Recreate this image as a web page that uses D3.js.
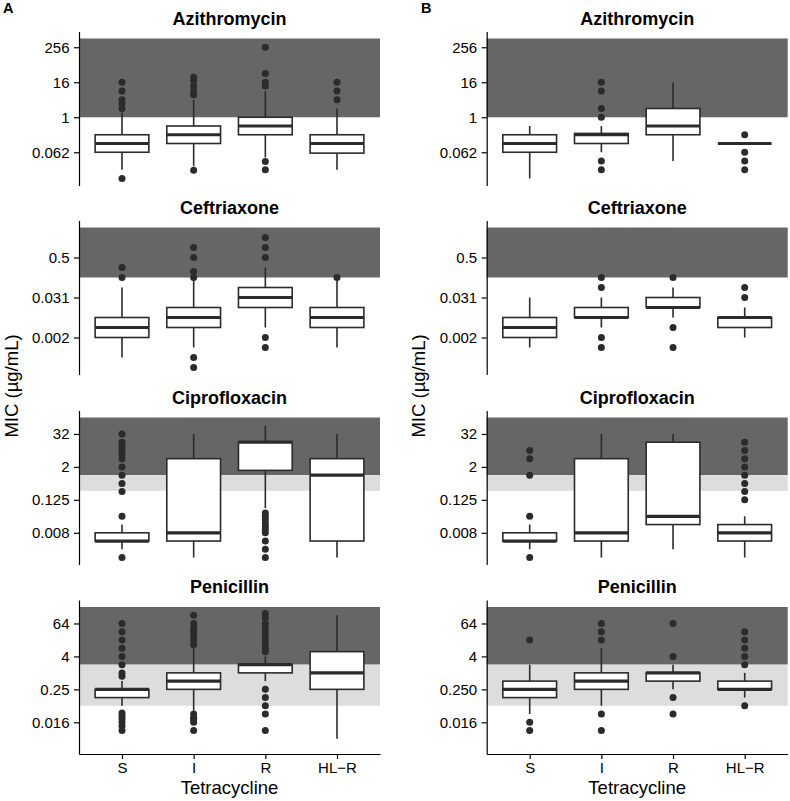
<!DOCTYPE html>
<html>
<head>
<meta charset="utf-8">
<script src="https://cdn.jsdelivr.net/npm/d3@7"></script>
<style>
    body { margin: 0; background: #fff; }
    text { font-family: "Liberation Sans", Arial, Helvetica, sans-serif; }
</style>
</head>
<body>
<div id="chart"></div>
<script>
// Tetracycline categories (x axis)
var groups = ["S", "I", "R", "HL-R"];
var groupLabels = ["S", "I", "R", "HL\u2212R"];
var drugs = ["Azithromycin", "Ceftriaxone", "Ciprofloxacin", "Penicillin"];

// y range of each drug row, in log2(MIC)
var yRanges = [[-7.8, 9.8], [-12.7, 2.7], [-10.85, 7.85], [-9.85, 8.85]];

// y ticks (log2) and their printed labels
var tickExp = [[8, 4, 0, -4], [-1, -5, -9], [5, 1, -3, -7], [6, 2, -2, -6]];
var tickLabelsA = [["256", "16", "1", "0.062"], ["0.5", "0.031", "0.002"], ["32", "2", "0.125", "0.008"], ["64", "4", "0.25", "0.016"]];
var tickLabelsB = [["256", "16", "1", "0.062"], ["0.5", "0.031", "0.002"], ["32", "2", "0.125", "0.008"], ["64", "4", "0.250", "0.016"]];

// breakpoint bands, log2(MIC)
var resistantBand = [[0, 9], [-3, 2], [0, 7], [1, 8]];
var intermediateBand = [null, null, [-1.9, 0], [-4, 1]];

// box stats per group: [lower whisker, q1, median, q3, upper whisker], log2(MIC)
var azmA = [[-6, -4, -3, -2, 0.58], [-5.6, -3, -2, -1, 2], [-4.6, -2, -1, 0, 3], [-6, -4.1, -3, -2, 1]];
var croA = [[-11, -9, -8, -7, -4], [-10, -8, -7, -6, -3.32], [-8, -6, -5, -4, -2], [-10, -8, -7, -6, -3.32]];
var cipA = [[-9, -8, -8, -7, -6], [-10, -8, -7, 2, 5], [-4, 0.58, 4, 4, 6], [-10, -8, 0, 2, 5]];
var penA = [[-4, -3, -2, -2, -1], [-4.58, -2, -1, 0, 3], [-1, 0, 1, 1, 2], [-8, -2, 0, 2.58, 7]];

var azmB = [[-7, -4, -3, -2, -1], [-4, -3, -2, -1.85, -1], [-5, -2, -1, 1, 4], [-3, -3, -3, -3, -3]];
var croB = [[-10, -9, -8, -7, -5], [-8, -7, -7, -6, -5], [-7, -6, -6, -5, -4], [-9, -8, -7, -7, -6]];
var cipB = [[-9, -8, -8, -7, -6], [-10, -8, -7, 2, 5], [-9, -6, -5, 4, 5], [-10, -8, -7, -6, -5]];
var penB = [[-5, -3, -2, -1, 1], [-4, -2, -1, 0, 3], [-2, -1, 0, 0, 1], [-3, -2, -2, -1, 0]];

// outliers per group, log2(MIC)
var azmOutA = [[1, 1.58, 2, 3, 4, -7], [2.58, 3, 3.58, 4.17, 4.58, -6.07], [3.58, 4, 5, 8, -5.06, -6], [2, 3, 4]];
var croOutA = [[-3, -2], [-3, -2.4, -1, 0, -11, -12], [-1, 0, 1, -9, -10], [-3]];
var cipOutA = [[-5, -2, -1, 0, 1, 2, 2.58, 3, 3.58, 4, 5, -10], [], [-4.6, -5, -5.4, -5.8, -6.2, -6.6, -7, -8, -9, -10], []];
var penOutA = [[-0.42, 0, 1, 2, 3, 4, 5, 6, -4.86, -5.2, -5.55, -6, -6.45, -7],
               [3.42, 4, 4.58, 5, 5.42, 6, 7, -5, -5.42, -5.64, -6, -7],
               [2.58, 3, 3.58, 4, 4.58, 5, 5.58, 6, 6.7, 7.2, -2, -3, -4, -5, -7], []];

var azmOutB = [[], [0, 1, 3, 4, -5, -6], [], [-2, -4, -5, -6]];
var croOutB = [[], [-4, -3, -9, -10], [-3, -8, -10], [-5, -4]];
var cipOutB = [[-5, 0, 2, 3, -10], [], [], [-3, -2, -1, 0, 1, 2, 3, 4]];
var penOutB = [[4, -6, -7], [4, 5, 6, -5, -7], [2, 6, -3, -5], [1, 2, 3, 4, 5, -4]];

var statsA = [azmA, croA, cipA, penA], statsB = [azmB, croB, cipB, penB];
var outA = [azmOutA, croOutA, cipOutA, penOutA], outB = [azmOutB, croOutB, cipOutB, penOutB];

// layout
var colLeft = [79, 486.7], plotW = 301;
var rowTop = [31.5, 220.5, 410.5, 600], plotH = 154;
var boxColor = "#2b2b2b";

var svg = d3.select("#chart").append("svg")
    .attr("width", 790)
    .attr("height", 801);

svg.append("rect").attr("width", 790).attr("height", 801).attr("fill", "#fff");

var x = d3.scalePoint()
    .domain(groups)
    .range([0, plotW])
    .padding(0.6);
var boxW = x.step() * 0.75;

function drawPanel(col, row) {
    var stats = col === 0 ? statsA[row] : statsB[row];
    var outs = col === 0 ? outA[row] : outB[row];
    var labels = col === 0 ? tickLabelsA[row] : tickLabelsB[row];

    var g = svg.append("g")
        .attr("transform", "translate(" + colLeft[col] + "," + rowTop[row] + ")");

    var y = d3.scaleLinear()
        .domain(yRanges[row])
        .range([plotH, 0]);

    // breakpoint bands
    var rb = resistantBand[row];
    g.append("rect")
        .attr("x", 0).attr("width", plotW)
        .attr("y", y(rb[1])).attr("height", y(rb[0]) - y(rb[1]))
        .attr("fill", "#666666");
    var ib = intermediateBand[row];
    if (ib) {
        g.append("rect")
            .attr("x", 0).attr("width", plotW)
            .attr("y", y(ib[1])).attr("height", y(ib[0]) - y(ib[1]))
            .attr("fill", "#dddddd");
    }

    // boxes
    var boxes = g.selectAll(".box")
        .data(stats)
        .enter().append("g")
        .attr("class", "box")
        .attr("transform", function (d, i) { return "translate(" + x(groups[i]) + ",0)"; });

    boxes.append("line")
        .attr("y1", function (d) { return y(d[3]); })
        .attr("y2", function (d) { return y(d[4]); })
        .attr("stroke", boxColor).attr("stroke-width", 1.6);
    boxes.append("line")
        .attr("y1", function (d) { return y(d[1]); })
        .attr("y2", function (d) { return y(d[0]); })
        .attr("stroke", boxColor).attr("stroke-width", 1.6);
    boxes.append("rect")
        .attr("x", -boxW / 2).attr("width", boxW)
        .attr("y", function (d) { return y(d[3]); })
        .attr("height", function (d) { return y(d[1]) - y(d[3]); })
        .attr("fill", "#fff")
        .attr("stroke", boxColor).attr("stroke-width", 1.6);
    boxes.append("line")
        .attr("x1", -boxW / 2).attr("x2", boxW / 2)
        .attr("y1", function (d) { return y(d[2]); })
        .attr("y2", function (d) { return y(d[2]); })
        .attr("stroke", boxColor).attr("stroke-width", 3.2);

    // outliers
    outs.forEach(function (list, i) {
        g.selectAll(null)
            .data(list)
            .enter().append("circle")
            .attr("cx", x(groups[i]))
            .attr("cy", function (d) { return y(d); })
            .attr("r", 3.5)
            .attr("fill", boxColor);
    });

    // y axis
    var yAxis = g.append("g")
        .call(d3.axisLeft(y)
            .tickValues(tickExp[row])
            .tickFormat(function (d, i) { return labels[i]; })
            .tickSize(5)
            .tickSizeOuter(0)
            .tickPadding(4.5));
    yAxis.selectAll("text").attr("font-size", 15).attr("fill", "#000")
        .style("font-family", "'Liberation Sans', Arial, sans-serif");
    yAxis.selectAll("line, path").attr("stroke", "#000").attr("stroke-width", 1.2);

    // strip title
    svg.append("text")
        .attr("x", colLeft[col] + plotW / 2)
        .attr("y", rowTop[row] - 7)
        .attr("text-anchor", "middle")
        .attr("font-size", 18)
        .attr("font-weight", "bold")
        .text(drugs[row]);

    // x axis only on the bottom row
    if (row === drugs.length - 1) {
        var xAxis = g.append("g")
            .attr("transform", "translate(0," + plotH + ")")
            .call(d3.axisBottom(x)
                .tickFormat(function (d, i) { return groupLabels[i]; })
                .tickSize(5)
                .tickSizeOuter(0)
                .tickPadding(3));
        xAxis.selectAll("text").attr("font-size", 15).attr("fill", "#000")
            .style("font-family", "'Liberation Sans', Arial, sans-serif");
        xAxis.selectAll("line, path").attr("stroke", "#000").attr("stroke-width", 1.2);

        svg.append("text")
            .attr("x", colLeft[col] + plotW / 2)
            .attr("y", 794)
            .attr("text-anchor", "middle")
            .attr("font-size", 18.5)
            .text("Tetracycline");
    }
}

[0, 1].forEach(function (col) {
    drugs.forEach(function (d, row) { drawPanel(col, row); });
});

// y axis titles
[18, 425].forEach(function (xp) {
    svg.append("text")
        .attr("transform", "translate(" + xp + ",386) rotate(-90)")
        .attr("text-anchor", "middle")
        .attr("font-size", 18.5)
        .text("MIC (\u00b5g/mL)");
});

// panel letters
svg.append("text").attr("x", 3).attr("y", 13).attr("font-size", 14.5).attr("font-weight", "bold").text("A");
svg.append("text").attr("x", 421).attr("y", 13).attr("font-size", 14.5).attr("font-weight", "bold").text("B");
</script>
</body>
</html>
